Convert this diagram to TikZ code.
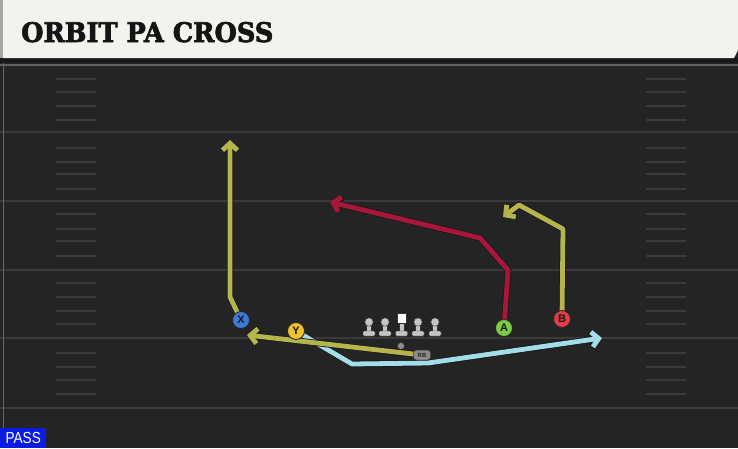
\documentclass[tikz,border=0pt]{standalone}
\usepackage{fontspec}
\setmainfont{Liberation Sans}
\newfontfamily\titlefont[FakeBold=2.5]{DejaVu Serif}
\usetikzlibrary{arrows.meta}
\definecolor{field}{HTML}{242424}
\definecolor{yardc}{HTML}{3A3A3A}
\definecolor{hashc}{HTML}{3A3A3A}
\definecolor{headerc}{HTML}{F4F2EC}
\definecolor{olive}{HTML}{B6B44C}
\definecolor{crimson}{HTML}{A8173A}
\definecolor{skyb}{HTML}{A3DDEA}
\definecolor{xblue}{HTML}{3D7BD6}
\definecolor{yyell}{HTML}{F2C12E}
\definecolor{agreen}{HTML}{7DCB46}
\definecolor{bred}{HTML}{E23C46}
\definecolor{lineman}{HTML}{C4C4C4}
\definecolor{passblue}{HTML}{0B1BE0}
\tikzset{
  yard/.style={draw=yardc, line width=2pt},
  hash/.style={draw=hashc, line width=1.6pt},
  route/.style={line width=4.8pt, line join=round, line cap=round,
    preaction={draw=black!90, line width=6.4pt}},
  tip/.style={-{Straight Barb[length=7pt,width=15pt]}},
  player/.style={circle, draw=black!85, line width=0.8pt, minimum size=17pt, inner sep=0pt,
    font=\bfseries\fontsize{11}{11}\selectfont, text=black!90},
  rbbox/.style={rectangle, rounded corners=3pt, fill=black!45, draw=black!80, line width=0.5pt,
    minimum width=17pt, minimum height=10pt, inner sep=0pt, text=black!85,
    font=\bfseries\fontsize{6}{6}\selectfont},
  lm/.style={fill=lineman, draw=black!80, line width=0.4pt},
}
\begin{document}
\begin{tikzpicture}[x=1pt,y=-1pt]
\useasboundingbox (0,0) rectangle (738,448);
\fill[field] (0,0) rectangle (738,448);
% yard lines
\draw[draw=yardc!80, line width=1.5pt] (0,65) -- (738,65);
\foreach \yy in {132,201,270,338,408} \draw[yard] (0,\yy) -- (738,\yy);
% hashes
\foreach \yy in {79,92,106,120,148,162,174,189,214,229,241,256,283,297,311,324,353,367,380,394}
  {\draw[hash] (56,\yy) -- (96,\yy); \draw[hash] (646,\yy) -- (686,\yy);}
\draw[draw=black!60, line width=1pt] (3,60) -- (3,448);
% header
\fill[black!90] (0,57) rectangle (738,63);
\fill[headerc] (3,0) -- (738,0) -- (738,50) -- (734,58) -- (3,58) -- cycle;
\fill[black!35] (0,0) rectangle (3,58);
\node[anchor=base west, inner sep=0pt, text=black!92] (title) at (21,42)
  {\titlefont\bfseries\fontsize{27}{27}\selectfont\scalebox{0.95}[1]{ORBIT PA CROSS}};
% players
\node[player, fill=xblue] (X) at (241,320) {X};
\node[player, fill=yyell] (Y) at (296,331) {Y};
\node[player, fill=agreen] (A) at (504,328) {A};
\node[player, fill=bred] (B) at (562,319) {B};
\node[circle, fill=black!45, draw=black!80, line width=0.5pt, minimum size=7pt, inner sep=0pt] (QB) at (401,346) {};
\node[rbbox] (RB) at (422,355) {RB};
% route coordinates
\coordinate (x1) at (230,297);
\coordinate (x2) at (230,140);
\coordinate (rb1) at (247,335);
\coordinate (y1) at (352,364);
\coordinate (y2) at (428,363);
\coordinate (y3) at (602,338);
\coordinate (a1) at (508,270);
\coordinate (a2) at (480,238);
\coordinate (a3) at (330,202);
\coordinate (b1) at (563,229);
\coordinate (b2) at (519,205);
\coordinate (b3) at (503,217);
% routes
\draw[route, tip, draw=skyb] (Y) -- (y1) -- (y2) -- (y3);
\draw[route, tip, draw=olive] (RB) -- (rb1);
\draw[route, tip, draw=olive] (X) -- (x1) -- (x2);
\draw[route, tip, draw=crimson] (A) -- (a1) -- (a2) -- (a3);
\draw[route, tip, draw=olive] (B) -- (b1) -- (b2) -- (b3);
% redraw players on top
\node[player, fill=xblue] at (X) {X};
\node[player, fill=yyell] at (Y) {Y};
\node[player, fill=agreen] at (A) {A};
\node[player, fill=bred] at (B) {B};
\node[rbbox] at (RB) {RB};
% linemen
\foreach \xx/\nm in {369/LT,385/LG,418/RG,435/RT} {
  \node[inner sep=0pt, minimum size=0pt] (\nm) at (\xx,326) {};
  \fill[lm] (\xx-2.6,322) rectangle (\xx+2.6,332);
  \fill[lm] (\xx,322) circle (4.2pt);
  \fill[lm, rounded corners=1pt] (\xx-6,331) rectangle (\xx+6,336);
}
\node[inner sep=0pt, minimum size=0pt] (C) at (401.5,326) {};
\fill[lm] (398.9,322) rectangle (404.1,332);
\fill[white, draw=black!80, line width=0.4pt] (397,313.5) rectangle (406,323);
\fill[lm, rounded corners=1pt] (395.5,331) rectangle (407.5,336);
% PASS label
\node[fill=passblue, text=white, anchor=south west, minimum width=46pt, minimum height=20pt,
  inner sep=0pt, font=\fontsize{16}{16}\selectfont] (pass) at (0,448) {\scalebox{0.85}[1]{PASS}};
\end{tikzpicture}
\end{document}
